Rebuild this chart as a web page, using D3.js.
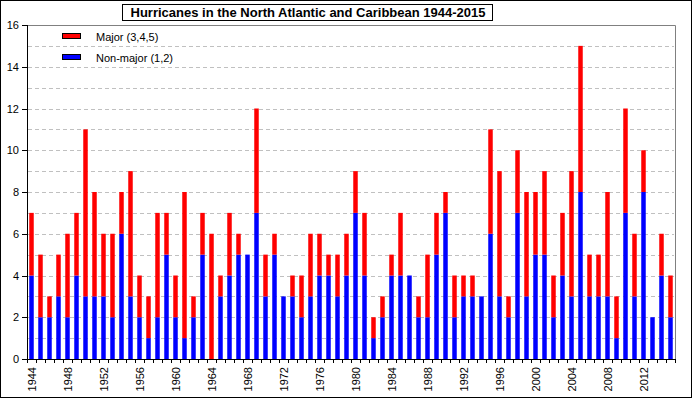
<!DOCTYPE html>
<html>
<head>
<meta charset="utf-8">
<script src="https://cdn.jsdelivr.net/npm/d3@7"></script>
<style>
  body { margin: 0; background: #fff; }
  svg { display: block; font-family: Arial, "Liberation Sans", sans-serif; }
</style>
</head>
<body>
<div id="chart"></div>
<script>
const years = d3.range(1944, 2016);
const nonMajor = [4, 2, 2, 3, 2, 4, 3, 3, 3, 2, 6, 3, 2, 1, 2, 5, 2, 1, 2, 5, 0, 3, 4, 5,
  5, 7, 3, 5, 3, 3, 2, 3, 4, 4, 3, 4, 7, 4, 1, 2, 4, 4, 4, 2, 2, 5, 7, 2,
  3, 3, 3, 6, 3, 2, 7, 3, 5, 5, 2, 4, 3, 8, 3, 3, 3, 1, 7, 3, 8, 2, 4, 2];
const major = [3, 3, 1, 2, 4, 3, 8, 5, 3, 4, 2, 6, 2, 2, 5, 2, 2, 7, 1, 2, 6, 1, 3, 1,
  0, 5, 2, 1, 0, 1, 2, 3, 2, 1, 2, 2, 2, 3, 1, 1, 1, 3, 0, 1, 3, 2, 1, 2,
  1, 1, 0, 5, 6, 1, 3, 5, 3, 4, 2, 3, 6, 7, 2, 2, 5, 2, 5, 3, 2, 0, 2, 2];
const yTicks = d3.range(0, 17, 2);
const xTickYears = d3.range(1944, 2016, 4);
const titleText = "Hurricanes in the North Atlantic and Caribbean 1944-2015";
const seriesNames = ["Major (3,4,5)", "Non-major (1,2)"];

const width = 692, height = 398;
const plot = { left: 27, right: 675, top: 25, bottom: 359 };

const svg = d3.select("#chart").append("svg")
  .attr("width", width)
  .attr("height", height);

svg.append("rect")
  .attr("x", 0.5).attr("y", 0.5)
  .attr("width", width - 1).attr("height", height - 1)
  .attr("fill", "#fff").attr("stroke", "#000");

const x = d3.scaleBand()
  .domain(years)
  .range([plot.left, plot.right])
  .paddingInner(0.5)
  .paddingOuter(0.25);

const y = d3.scaleLinear()
  .domain([0, 16])
  .range([plot.bottom, plot.top]);

// dashed gridlines every unit
svg.append("g")
  .selectAll("line")
  .data(d3.range(1, 16))
  .join("line")
  .attr("x1", plot.left + 1).attr("x2", plot.right - 1)
  .attr("y1", d => Math.round(y(d)) + 0.5)
  .attr("y2", d => Math.round(y(d)) + 0.5)
  .attr("stroke", "#c0c0c0")
  .attr("stroke-dasharray", "4,3");

// plot frame (top and right in gray)
svg.append("path")
  .attr("d", `M${plot.left},${plot.top + 0.5}H${plot.right + 0.5}V${plot.bottom}`)
  .attr("fill", "none")
  .attr("stroke", "#808080");

const stacked = d3.stack().keys(["nonMajor", "major"])(
  years.map((yr, i) => ({ year: yr, nonMajor: nonMajor[i], major: major[i] }))
);
const colors = { nonMajor: "#0000ff", major: "#ff0000" };

svg.append("g")
  .selectAll("g")
  .data(stacked)
  .join("g")
  .attr("fill", d => colors[d.key])
  .selectAll("rect")
  .data(d => d)
  .join("rect")
  .attr("x", d => x(d.data.year))
  .attr("width", x.bandwidth())
  .attr("y", d => y(d[1]))
  .attr("height", d => y(d[0]) - y(d[1]));

// y axis
const yAxis = svg.append("g");
yAxis.append("line")
  .attr("x1", plot.left + 0.5).attr("x2", plot.left + 0.5)
  .attr("y1", plot.top).attr("y2", plot.bottom + 1)
  .attr("stroke", "#000");
yAxis.selectAll(".tick")
  .data(yTicks)
  .join("line")
  .attr("x1", plot.left - 5).attr("x2", plot.left)
  .attr("y1", d => Math.round(y(d)) + 0.5)
  .attr("y2", d => Math.round(y(d)) + 0.5)
  .attr("stroke", "#000");
yAxis.selectAll("text")
  .data(yTicks)
  .join("text")
  .attr("x", 19)
  .attr("y", d => y(d) + 4)
  .attr("text-anchor", "end")
  .style("font-size", "11px")
  .text(d => d);

// x axis
const xAxis = svg.append("g");
xAxis.append("line")
  .attr("x1", plot.left).attr("x2", plot.right + 1)
  .attr("y1", plot.bottom + 0.5).attr("y2", plot.bottom + 0.5)
  .attr("stroke", "#000");
xAxis.selectAll(".tick")
  .data(years.concat([years[years.length - 1] + 1]))
  .join("line")
  .attr("x1", (d, i) => Math.round(plot.left + i * x.step()) + 0.5)
  .attr("x2", (d, i) => Math.round(plot.left + i * x.step()) + 0.5)
  .attr("y1", plot.bottom).attr("y2", plot.bottom + 4)
  .attr("stroke", "#000");
xAxis.selectAll("text")
  .data(xTickYears)
  .join("text")
  .attr("transform", d => `translate(${x(d) + x.bandwidth() / 2 + 4.5},${plot.bottom + 8}) rotate(-90)`)
  .attr("text-anchor", "end")
  .style("font-size", "11px")
  .text(d => d);

// title with box
svg.append("rect")
  .attr("x", 122.5).attr("y", 4.5)
  .attr("width", 370).attr("height", 16)
  .attr("fill", "#fff")
  .attr("stroke", "#000");
svg.append("text")
  .attr("x", 308)
  .attr("y", 17)
  .attr("text-anchor", "middle")
  .style("font-size", "13px")
  .style("font-weight", "bold")
  .text(titleText);

// legend
const legend = svg.append("g");
[colors.major, colors.nonMajor].forEach((c, i) => {
  legend.append("rect")
    .attr("x", 62.5).attr("y", 33.5 + i * 21)
    .attr("width", 18).attr("height", 5)
    .attr("fill", c).attr("stroke", "#000");
  legend.append("text")
    .attr("x", 96).attr("y", 41 + i * 21)
    .style("font-size", "11px")
    .text(seriesNames[i]);
});
</script>
</body>
</html>
